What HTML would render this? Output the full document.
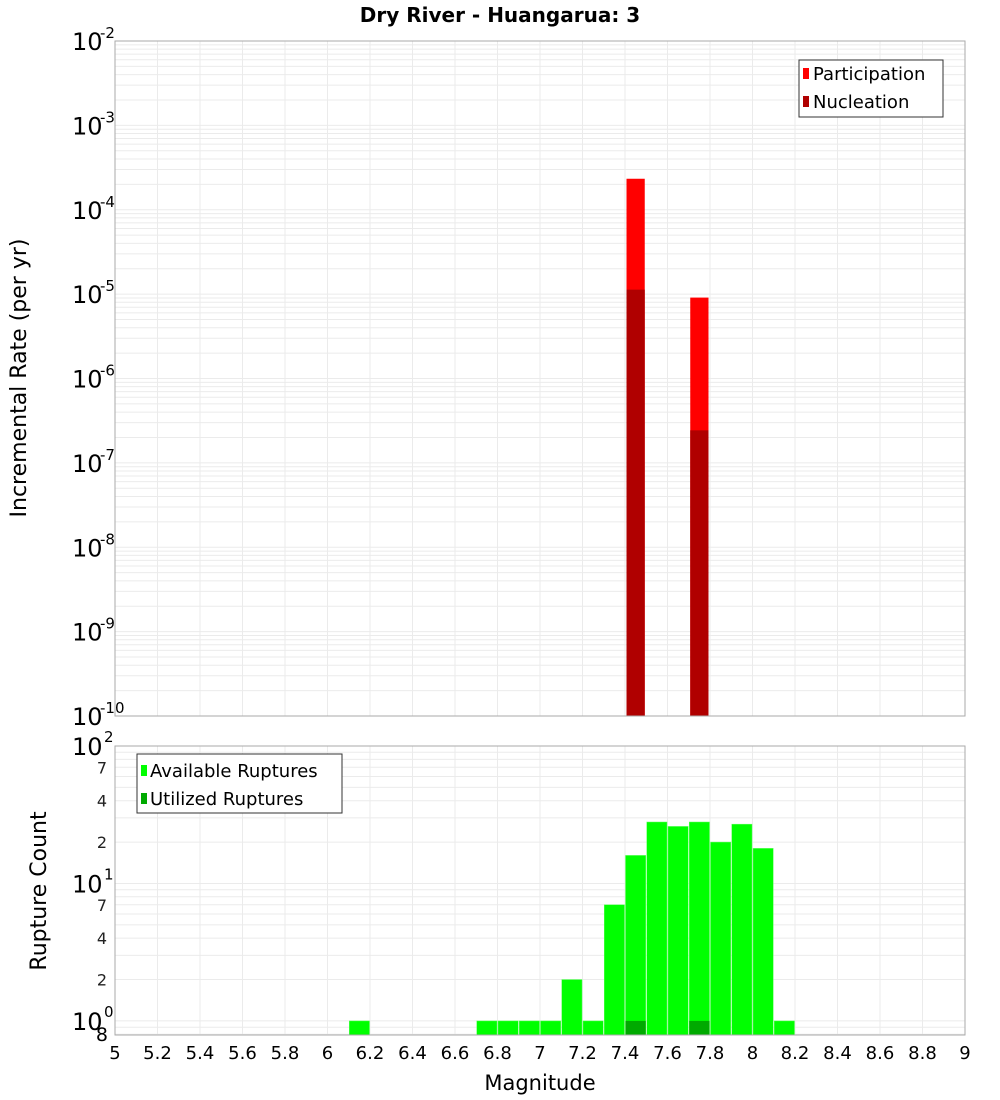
<!DOCTYPE html>
<html><head><meta charset="utf-8"><style>
body{margin:0;background:#fff;}
svg{display:block;font-family:"DejaVu Sans","Liberation Sans",sans-serif;}
</style></head><body>
<svg id="c" width="1000" height="1100" viewBox="0 0 1000 1100" xmlns="http://www.w3.org/2000/svg">
<rect x="0" y="0" width="1000" height="1100" fill="#fff"/>
<text x="500" y="22" text-anchor="middle" font-size="20" font-weight="bold">Dry River - Huangarua: 3</text>
<g id="topg"></g><g id="botg"></g>
<text transform="translate(26,378) rotate(-90)" text-anchor="middle" font-size="22">Incremental Rate (per yr)</text>
<text transform="translate(46,891) rotate(-90)" text-anchor="middle" font-size="22">Rupture Count</text>
<text x="540" y="1090" text-anchor="middle" font-size="21">Magnitude</text>
<g>
<rect x="799" y="60" width="144" height="57" fill="#fff" stroke="#333" stroke-width="1"/>
<rect x="803" y="68" width="6" height="11" fill="#ff0000"/>
<text x="813" y="80" font-size="18">Participation</text>
<rect x="803" y="96" width="6" height="11" fill="#b00000"/>
<text x="813" y="108" font-size="18">Nucleation</text>
</g>
<g>
<rect x="137" y="754" width="205" height="59" fill="#fff" stroke="#333" stroke-width="1"/>
<rect x="141" y="765" width="6" height="11" fill="#00ff00"/>
<text x="150" y="777" font-size="18">Available Ruptures</text>
<rect x="141" y="793" width="6" height="11" fill="#00aa00"/>
<text x="150" y="805" font-size="18">Utilized Ruptures</text>
</g>
</svg>
<script>
const magBins=[6.15,6.75,6.85,6.95,7.05,7.15,7.25,7.35,7.45,7.55,7.65,7.75,7.85,7.95,8.05,8.15];
const availCounts=[1,1,1,1,1,2,1,7,16,28,26,28,20,27,18,1];
const utilBins=[7.45,7.75];
const utilCounts=[1,1];
const rateBins=[7.45,7.75];
const participation=[2.33e-4,9.1e-6];
const nucleation=[1.13e-5,2.43e-7];
const xTicks=[5,5.2,5.4,5.6,5.8,6,6.2,6.4,6.6,6.8,7,7.2,7.4,7.6,7.8,8,8.2,8.4,8.6,8.8,9];
const topDecades=[-2,-3,-4,-5,-6,-7,-8,-9,-10];

const NS="http://www.w3.org/2000/svg";
const X0=115,X1=965;
const xs=m=>X0+(m-5)/4*(X1-X0);
const T0=41,T1=716;
const yTop=v=>T0+(-2-Math.log10(v))/8*(T1-T0);
const B0=746,B1=1035,bMin=Math.log10(0.79),bMax=2;
const yBot=v=>B0+(bMax-Math.log10(v))/(bMax-bMin)*(B1-B0);
function el(p,t,a){const e=document.createElementNS(NS,t);for(const k in a)e.setAttribute(k,a[k]);p.appendChild(e);return e;}
const gTop=document.getElementById('topg'),gBot=document.getElementById('botg');

for(let d=-10;d<-2;d++)for(let k=1;k<10;k++){const y=yTop(k*Math.pow(10,d));const g=el(gTop,'line',{x1:X0,x2:X1,y1:y,y2:y,stroke:'#ebebeb','stroke-width':1});

}
for(const t of xTicks){const x=xs(t);const g=el(gTop,'line',{x1:x,x2:x,y1:T0,y2:T1,stroke:'#ebebeb'});


const g2=el(gBot,'line',{x1:x,x2:x,y1:B0,y2:B1,stroke:'#ebebeb'});

}
for(let d=-1;d<2;d++)for(let k=1;k<10;k++){const v=k*Math.pow(10,d);if(v<0.79)continue;const y=yBot(v);const g=el(gBot,'line',{x1:X0,x2:X1,y1:y,y2:y,stroke:'#ebebeb'});

}

const bw=0.1/4*(X1-X0);
rateBins.forEach((m,i)=>{
 const x=xs(m)-bw/2+1.5;
 const p=el(gTop,'rect',{x:x,y:yTop(participation[i]),width:bw-3,height:T1-yTop(participation[i]),fill:'#ff0000'});
 
 
 const n=el(gTop,'rect',{x:x,y:yTop(nucleation[i]),width:bw-3,height:T1-yTop(nucleation[i]),fill:'#b00000'});
 
 
});
magBins.forEach((m,i)=>{
 const x=xs(m)-bw/2+0.5;
 const r=el(gBot,'rect',{x:x,y:yBot(availCounts[i]),width:bw-1,height:B1-yBot(availCounts[i]),fill:'#00ff00',stroke:'#60ff60','stroke-width':0.5});
 
 
});
utilBins.forEach((m,i)=>{
 const x=xs(m)-bw/2+0.5;
 const r=el(gBot,'rect',{x:x,y:yBot(utilCounts[i]),width:bw-1,height:B1-yBot(utilCounts[i]),fill:'#00aa00'});
 
 
});
const f1=el(gTop,'rect',{x:X0,y:T0,width:X1-X0,height:T1-T0,fill:'none',stroke:'#aaa'});


const f2=el(gBot,'rect',{x:X0,y:B0,width:X1-X0,height:B1-B0,fill:'none',stroke:'#aaa'});



for(const d of topDecades){const y=yTop(Math.pow(10,d));
 const t=el(gTop,'text',{x:72,y:y+9,'font-size':24});t.textContent='10';
 
 
 const s=el(gTop,'text',{x:100,y:y-3,'font-size':15});s.textContent=String(d);
 
 }
[0,1,2].forEach(d=>{const y=yBot(Math.pow(10,d));
 const t=el(gBot,'text',{x:72,y:y+9,'font-size':24});t.textContent='10';
 
 
 const s=el(gBot,'text',{x:104,y:y-4,'font-size':15});s.textContent=String(d);
 
 });
[2,4,7,20,40,70].forEach(v=>{const y=yBot(v);const t=el(gBot,'text',{x:107,y:y+6,'font-size':16,'text-anchor':'end',fill:'#222'});t.textContent=String(v>9?v/10:v);
 
 });
{const t=el(gBot,'text',{x:108,y:1041,'font-size':19,'text-anchor':'end'});t.textContent='8';
 
 }
for(const v of xTicks){const t=el(gBot,'text',{x:xs(v),y:1059,'font-size':18,'text-anchor':'middle'});t.textContent=String(v);
 
 }
</script>
</body></html>
